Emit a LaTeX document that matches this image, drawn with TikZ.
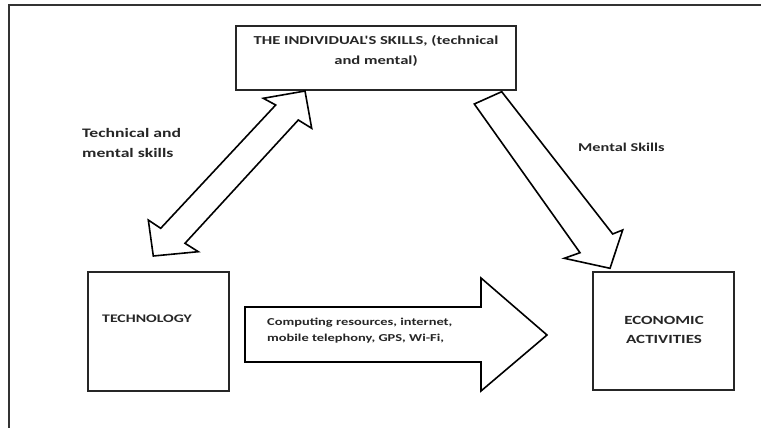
\documentclass[tikz,border=0pt]{standalone}
\usepackage{fontspec}
\setmainfont{Carlito}
\newfontfamily\widefont[FakeStretch=1.36]{Carlito}
\begin{document}
\begin{tikzpicture}[x=1pt,y=-1pt,
  box/.style={draw=black!85, line width=1.8pt},
  blockarrow/.style={draw=black, line width=1.6pt, line join=miter, fill=white},
  label/.style={inner sep=0pt, text=black!85},
]
\useasboundingbox (0,0) rectangle (761,428);
% frame lines along the top and left edges
\draw[black!80, line width=2pt] (761,5) -- (9,5) -- (9,428);

% boxes
\draw[box] (236,26) rectangle (516,90);
\node[label, align=center, font=\widefont\bfseries\fontsize{12.2}{20}\selectfont] (skills) at (376,51)
  {THE INDIVIDUAL'S SKILLS, (technical\\and mental)};

\draw[box] (88,272) rectangle (229,391);
\node[label, anchor=west, font=\widefont\bfseries\fontsize{11.6}{20}\selectfont] (tech) at (102,319) {TECHNOLOGY};

\draw[box] (593,272) rectangle (734,390);
\node[label, align=center, font=\widefont\bfseries\fontsize{12.5}{19}\selectfont] (econ) at (664,330)
  {ECONOMIC\\ACTIVITIES};

% double block arrow between skills and technology
\draw[blockarrow] (305,91) -- (311.7,128.3) -- (298.3,120) -- (185,243.3) -- (198.3,251.7)
  -- (153.3,256) -- (148.3,220) -- (160.7,228.3) -- (275.7,105) -- (263.3,98.3) -- cycle;

% block arrow from skills to economic activities
\draw[blockarrow] (501.7,91.7) -- (612.7,234) -- (622.7,230) -- (610,268.3) -- (564.3,258.3)
  -- (580,252.7) -- (474.3,104) -- cycle;

% block arrow from technology to economic activities
\draw[blockarrow] (245,307) -- (481,307) -- (481,278) -- (547,335) -- (481,391) -- (481,362)
  -- (245,362) -- cycle;
\node[label, anchor=west, align=left, font=\widefont\bfseries\fontsize{10.6}{16}\selectfont] (res) at (267,331)
  {Computing resources, internet,\\mobile telephony, GPS, Wi-Fi,};

% arrow labels
\node[label, anchor=west, align=left, font=\widefont\bfseries\fontsize{13}{20}\selectfont] (lab1) at (82,143)
  {Technical and\\mental skills};
\node[label, anchor=west, font=\widefont\bfseries\fontsize{12}{20}\selectfont] (lab2) at (578,147) {Mental Skills};
\end{tikzpicture}
\end{document}
